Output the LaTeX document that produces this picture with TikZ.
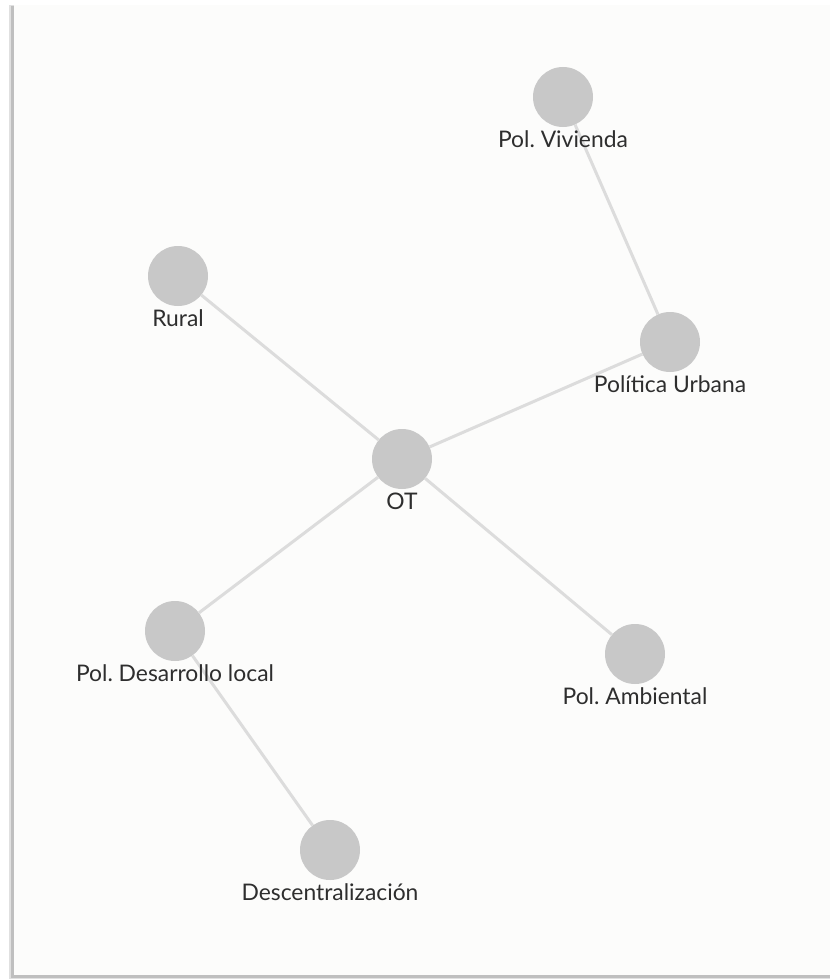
\documentclass[tikz,border=0pt]{standalone}
\usepackage{fontspec}
\setmainfont{Lato}
\frenchspacing
\usepackage{tikz}
\usetikzlibrary{positioning}
\definecolor{nodegray}{HTML}{C8C8C8}
\definecolor{edgegray}{HTML}{DCDCDC}
\definecolor{txtgray}{HTML}{2E2E2E}
\definecolor{paper}{HTML}{FCFCFB}
\pgfdeclarelayer{edges}
\pgfdeclarelayer{frame}
\pgfsetlayers{frame,edges,main}
\tikzset{
    topic/.style={circle, fill=nodegray, minimum size=1.8cm, inner sep=0pt},
    tag/.style={label={[anchor=center, label distance=0.36cm, text=txtgray, font=\fontsize{19.5}{22}\selectfont]below:#1}},
    link/.style={draw=edgegray, line width=0.09cm}
}

\begin{document}
\begin{tikzpicture}[x=0.03cm, y=-0.03cm]
    \useasboundingbox (0,0) rectangle (830,979);
    \begin{pgfonlayer}{frame}
    \fill[white] (0,0) rectangle (830,979);
    \fill[black!12] (9,5) rectangle (830,979);
    \fill[black!25] (11,6) rectangle (830,978);
    \fill[paper] (14,5) rectangle (830,975);
    \end{pgfonlayer}

    \node[topic, tag={Pol. Vivienda}] (viv) at (563,97) {};
    \node[topic, tag={Rural}] (rur) at (178,276) {};
    \node[topic, tag={Política Urbana}] (urb) at (670,342) {};
    \node[topic, tag={OT}] (ot) at (402,459) {};
    \node[topic, tag={Pol. Desarrollo local}] (des) at (175,631) {};
    \node[topic, tag={Pol. Ambiental}] (amb) at (635,654) {};
    \node[topic, tag={Descentralización}] (dec) at (330,850) {};

    \begin{pgfonlayer}{edges}
    \draw[link] (viv) -- (urb);
    \draw[link] (rur) -- (ot);
    \draw[link] (urb) -- (ot);
    \draw[link] (ot) -- (des);
    \draw[link] (ot) -- (amb);
    \draw[link] (des) -- (dec);
    \end{pgfonlayer}
\end{tikzpicture}
\end{document}
